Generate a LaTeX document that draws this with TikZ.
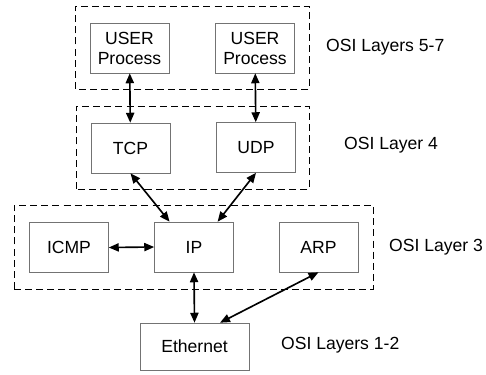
\documentclass[tikz,border=0pt]{standalone}
\usepackage{fontspec}
\setmainfont{Liberation Sans}
\usetikzlibrary{arrows.meta}

\begin{document}
\begin{tikzpicture}[font=\fontsize{15}{17}\selectfont,
    layerbox/.style={draw=black, line width=0.8pt, dash pattern=on 6pt off 3.5pt},
    proto/.style={draw=black!55, line width=0.5pt, minimum width=2.37cm, minimum height=1.5cm, align=center},
    link/.style={{Triangle[length=8.5pt,width=7pt]}-{Triangle[length=8.5pt,width=7pt]}, line width=1.4pt}]

\useasboundingbox (0,0) rectangle (14.58,11.22);

% 1. Application layers (top)
\draw[layerbox] (2.25,8.55) rectangle (9.27,11.04);
\node[proto] (USR1) at (3.885,9.78) {USER\\Process};
\node[proto] (USR2) at (7.65,9.78) {USER\\Process};
\node[anchor=west] (L57) at (9.66,9.81) {OSI Layers 5-7};

% 2. Transport layer
\draw[layerbox] (2.28,5.55) rectangle (9.27,8.04);
\node[proto] (TCP) at (3.915,6.78) {TCP};
\node[proto] (UDP) at (7.68,6.795) {UDP};
\node[anchor=west] (L4) at (10.2,6.87) {OSI Layer 4};

% 3. Network layer
\draw[layerbox] (0.42,2.55) rectangle (11.19,5.07);
\node[proto] (ICMP) at (2.07,3.795) {ICMP};
\node[proto] (IP) at (5.82,3.81) {IP};
\node[proto] (ARP) at (9.555,3.81) {ARP};
\node[anchor=west] (L3) at (11.55,3.81) {OSI Layer 3};

% 4. Link layer (bottom)
\node[proto, minimum width=3.27cm, minimum height=1.41cm] (ETH) at (5.835,0.825) {Ethernet};
\node[anchor=west] (L12) at (8.31,0.87) {OSI Layers 1-2};

% Connections
\draw[link] (USR1) -- (TCP);
\draw[link] (USR2) -- (UDP);
\draw[link] (TCP.south) -- (IP.134);
\draw[link] (UDP.south) -- (IP.47);
\draw[link] (ICMP.east) -- (IP.west);
\draw[link] (IP.south) -- (ETH.north);
\draw[link] (ARP.south) -- (ETH.43);

\end{tikzpicture}
\end{document}
